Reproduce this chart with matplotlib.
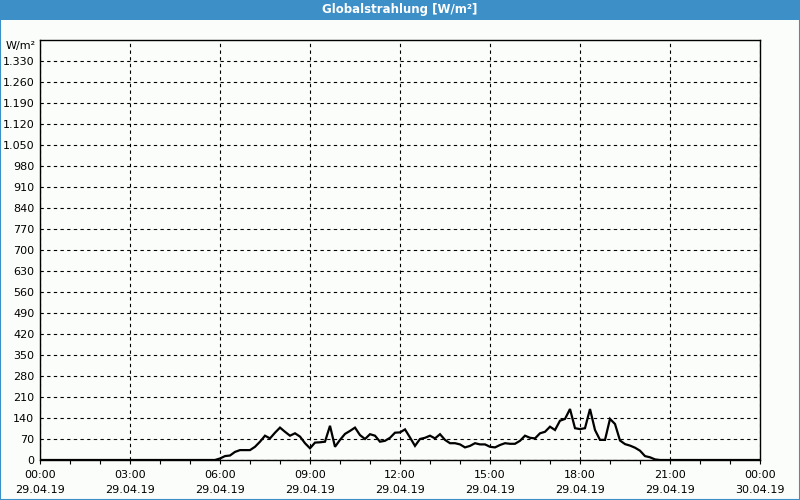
import numpy as np
import matplotlib
matplotlib.use("Agg")
import matplotlib.pyplot as plt
from matplotlib.patches import Rectangle

# ==========================================
# DATA
# ==========================================
TITLE = "Globalstrahlung [W/m²]"
UNIT = "W/m²"

# 10-minute readings from 05:50 to 20:40 (W/m²), zero outside
day_start_h = 5 + 50 / 60
step_h = 10 / 60
day_values = [
    0, 5, 13, 15, 27, 33, 33, 33, 44, 61, 81, 72, 91,
    108, 94, 81, 89, 78, 56, 39, 58, 59, 61, 114, 44,
    67, 87, 97, 108, 83, 70, 86, 81, 61, 64, 74, 91,
    92, 102, 75, 47, 70, 74, 81, 72, 86, 67, 56, 56,
    52, 42, 47, 56, 52, 52, 44, 42, 50, 56, 54, 54,
    64, 81, 74, 72, 89, 94, 111, 100, 131, 137, 170, 106,
    103, 106, 170, 100, 67, 67, 137, 120, 65, 53, 48, 41,
    31, 13, 9, 2, 0,
]

y_ticks = list(range(0, 1331, 70))
y_labels = ["0", "70", "140", "210", "280", "350", "420", "490", "560", "630",
            "700", "770", "840", "910", "980", "1.050", "1.120", "1.190",
            "1.260", "1.330"]
x_ticks = [0, 3, 6, 9, 12, 15, 18, 21, 24]
x_labels = ["00:00\n29.04.19", "03:00\n29.04.19", "06:00\n29.04.19",
            "09:00\n29.04.19", "12:00\n29.04.19", "15:00\n29.04.19",
            "18:00\n29.04.19", "21:00\n29.04.19", "00:00\n30.04.19"]
# ==========================================

BLUE = "#3d8fc7"
BG = "#fbfdfa"

hours = day_start_h + step_h * np.arange(len(day_values))
t = np.concatenate([[0.0], hours, [24.0]])
v = np.concatenate([[0.0], day_values, [0.0]])

fig = plt.figure(figsize=(8, 5), dpi=100, facecolor=BG)

# title bar and frame
fig.add_artist(Rectangle((0, 480 / 500), 1, 20 / 500, transform=fig.transFigure,
                         facecolor=BLUE, edgecolor="none"))
fig.add_artist(Rectangle((0, 0), 1, 1, transform=fig.transFigure, fill=False,
                         edgecolor=BLUE, lw=1.5))
fig.text(0.5, 490 / 500, TITLE, color="white", fontsize=8.5, fontweight="bold",
         ha="center", va="center")

ax = fig.add_axes([40 / 800, 40 / 500, 720 / 800, 420 / 500])
ax.set_facecolor(BG)
ax.plot(t, v, color="black", lw=1.6, solid_joinstyle="miter")

ax.set_xlim(0, 24)
ax.set_ylim(0, 1400)
ax.set_yticks(y_ticks)
ax.set_yticklabels(y_labels)
ax.set_xticks(x_ticks)
ax.set_xticklabels(x_labels, linespacing=1.6)
ax.set_xticks(np.arange(0, 25, 1), minor=True)

ax.grid(True, which="major", color="black", linestyle=(0, (3, 3)), lw=0.8)
ax.tick_params(axis="y", length=0, pad=4, labelsize=8)
ax.tick_params(axis="x", which="both", length=3, width=0.8, direction="out",
               labelsize=8, pad=4)
for s in ax.spines.values():
    s.set_color("black")
    s.set_linewidth(1.0)

fig.text(36 / 800, 1 - 46 / 500, UNIT, fontsize=8, ha="right", va="center")

fig.savefig("out.png", dpi=100, facecolor=BG)
